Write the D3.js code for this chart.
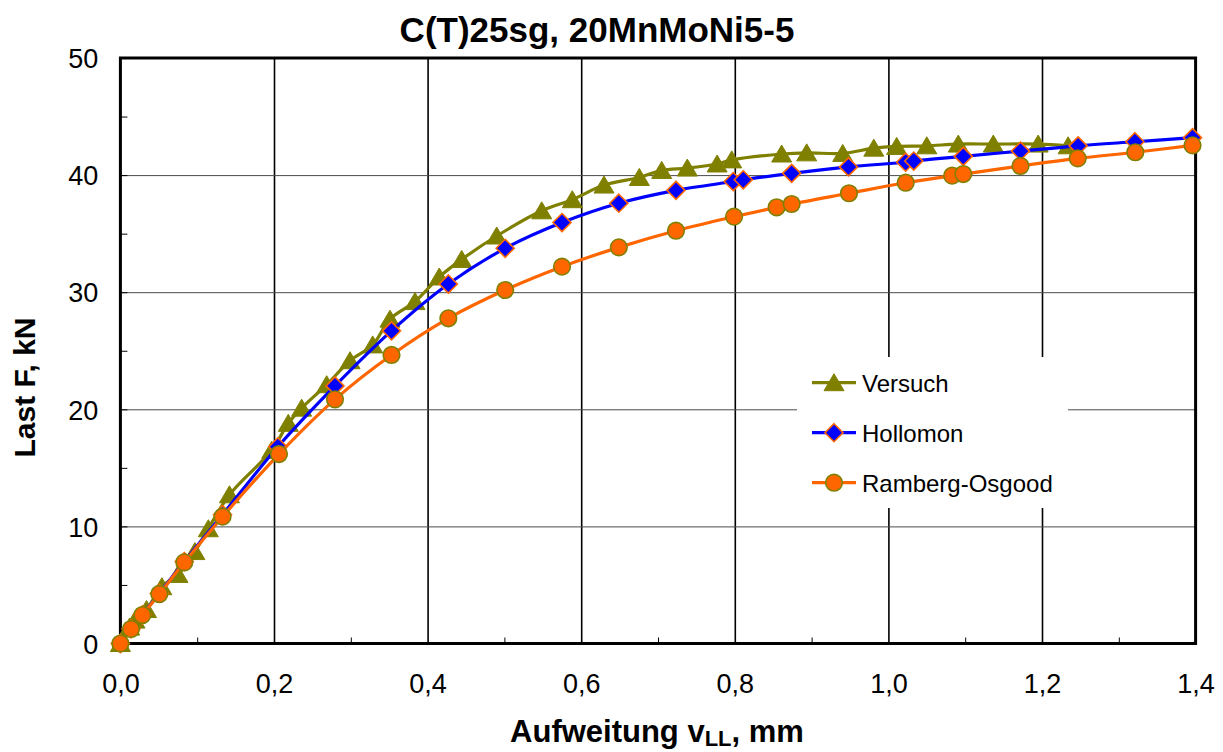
<!DOCTYPE html>
<html lang="de">
<head>
  <meta charset="UTF-8">
  <title>C(T)25sg, 20MnMoNi5-5</title>
  <style>
    *{margin:0;padding:0}
    body{background:#fff;font-family:'Liberation Sans',Arial,Helvetica,sans-serif}
    svg{display:block}
  </style>
  <script src="https://d3js.org/d3.v7.min.js"></script>
</head>
<body>
  <div id="chart"></div>
  <script>
    /* ---------- DATA ---------- */
    const versuchX = [0, 0.012, 0.019, 0.034, 0.054, 0.075, 0.097, 0.1145, 0.142, 0.197, 0.2186, 0.236, 0.2686, 0.299, 0.3285, 0.351, 0.3836,
                      0.4152, 0.4444, 0.49, 0.5486, 0.5884, 0.6297, 0.6757, 0.7048, 0.7382, 0.777, 0.796, 0.861, 0.8936, 0.9405,
                      0.981, 1.0108, 1.05, 1.091, 1.1366, 1.195, 1.234];
    const versuchY = [0, 1.4, 2.0, 2.9, 4.85, 5.9, 7.85, 9.8, 12.7, 16.5, 18.8, 20.1, 22.1, 24.15, 25.5, 27.7, 29.2,
                      31.3, 32.8, 34.8, 36.95, 37.9, 39.15, 39.8, 40.4, 40.6, 40.95, 41.3, 41.8, 41.9, 41.85,
                      42.3, 42.45, 42.5, 42.65, 42.65, 42.65, 42.5];

    const hollomonX = [0, 0.0138, 0.0286, 0.0507, 0.0832, 0.133, 0.205, 0.2794, 0.353, 0.427, 0.501, 0.575, 0.649, 0.7234,
                       0.798, 0.811, 0.874, 0.948, 1.0225, 1.033, 1.0975, 1.172, 1.247, 1.321, 1.396];
    const hollomonY = [0, 1.25, 2.45, 4.28, 7.0, 11.0, 16.8, 22.0, 26.7, 30.7, 33.75, 35.95, 37.6, 38.7,
                       39.45, 39.6, 40.15, 40.7, 41.1, 41.2, 41.6, 42.05, 42.5, 42.85, 43.2];

    const rambergX = [0, 0.0138, 0.0286, 0.0507, 0.0832, 0.133, 0.2065, 0.2794, 0.353, 0.427, 0.501, 0.575, 0.649, 0.7234,
                      0.799, 0.8545, 0.874, 0.9487, 1.0225, 1.083, 1.0975, 1.172, 1.2465, 1.3215, 1.396];
    const rambergY = [0, 1.24, 2.43, 4.23, 6.93, 10.83, 16.18, 20.85, 24.64, 27.77, 30.19, 32.18, 33.83, 35.25,
                      36.45, 37.25, 37.53, 38.45, 39.35, 39.95, 40.09, 40.78, 41.43, 41.95, 42.54];

    const xTicks = [0, 0.2, 0.4, 0.6, 0.8, 1.0, 1.2, 1.4];
    const yTicks = [0, 10, 20, 30, 40, 50];
    const xMinor = [0.1, 0.3, 0.5, 0.7, 0.9, 1.1, 1.3];
    const yMinor = [5, 15, 25, 35, 45];

    const seriesNames = ['Versuch', 'Hollomon', 'Ramberg-Osgood'];

    /* ---------- LAYOUT ---------- */
    const W = 1223, H = 752;
    const plot = {left: 120.4, right: 1195.6, top: 58, bottom: 643.5};
    const FONT = "'Liberation Sans',Arial,Helvetica,sans-serif";

    const x = d3.scaleLinear().domain([0, 1.4]).range([plot.left, plot.right]);
    const y = d3.scaleLinear().domain([0, 50]).range([plot.bottom, plot.top]);
    const fmt = d => d3.format('.1f')(d).replace('.', ',');

    const svg = d3.select('#chart').append('svg').attr('width', W).attr('height', H);

    /* ---------- GRID ---------- */
    svg.append('g').attr('transform', `translate(0,${plot.bottom})`)
       .call(d3.axisBottom(x).tickValues(xTicks.slice(1, -1)).tickSize(-(plot.bottom - plot.top)).tickFormat(''))
       .call(g => g.select('.domain').remove())
       .call(g => g.selectAll('line').attr('stroke', '#000').attr('stroke-width', 1.6));
    svg.append('g').attr('transform', `translate(${plot.left},0)`)
       .call(d3.axisLeft(y).tickValues(yTicks.slice(1, -1)).tickSize(-(plot.right - plot.left)).tickFormat(''))
       .call(g => g.select('.domain').remove())
       .call(g => g.selectAll('line').attr('stroke', '#4a4a4a').attr('stroke-width', 1));

    /* minor ticks (inside) */
    svg.append('g').attr('transform', `translate(0,${plot.bottom})`)
       .call(d3.axisTop(x).tickValues(xMinor).tickSize(6).tickFormat(''))
       .call(g => g.select('.domain').remove())
       .call(g => g.selectAll('line').attr('stroke', '#000').attr('stroke-width', 1));
    svg.append('g').attr('transform', `translate(${plot.left},0)`)
       .call(d3.axisRight(y).tickValues(yMinor.concat(yTicks)).tickSize(7).tickFormat(''))
       .call(g => g.select('.domain').remove())
       .call(g => g.selectAll('line').attr('stroke', '#000').attr('stroke-width', 1));

    /* tick labels */
    svg.append('g').attr('transform', `translate(0,${plot.bottom})`)
       .call(d3.axisBottom(x).tickValues(xTicks).tickSize(0).tickPadding(0).tickFormat(fmt))
       .call(g => g.select('.domain').remove())
       .call(g => g.selectAll('text').attr('y', 49.5).attr('dy', null)
                   .attr('font-family', FONT).attr('font-size', 27).attr('fill', '#000'));
    svg.append('g').attr('transform', `translate(${plot.left},0)`)
       .call(d3.axisLeft(y).tickValues(yTicks).tickSize(0).tickPadding(0).tickFormat(d3.format('d')))
       .call(g => g.select('.domain').remove())
       .call(g => g.selectAll('text').attr('x', -22).attr('dy', '0.36em')
                   .attr('font-family', FONT).attr('font-size', 27).attr('fill', '#000'));

    /* frame */
    svg.append('rect')
       .attr('x', plot.left).attr('y', plot.top)
       .attr('width', plot.right - plot.left).attr('height', plot.bottom - plot.top)
       .attr('fill', 'none').attr('stroke', '#000').attr('stroke-width', 3);

    /* ---------- SERIES ---------- */
    const line = d3.line().x(d => x(d[0])).y(d => y(d[1])).curve(d3.curveCatmullRom.alpha(0.5));
    const zip = (a, b) => a.map((v, i) => [v, b[i]]);

    const series = [
      {name: seriesNames[0], pts: zip(versuchX, versuchY), stroke: '#808000', fill: '#808000', mstroke: '#808000', shape: 'tri'},
      {name: seriesNames[1], pts: zip(hollomonX, hollomonY), stroke: '#0000ff', fill: '#0000ff', mstroke: '#ff6600', shape: 'dia'},
      {name: seriesNames[2], pts: zip(rambergX, rambergY), stroke: '#ff6600', fill: '#ff6600', mstroke: '#808000', shape: 'cir'}
    ];

    function marker(g, s, px, py){
      if(s.shape === 'tri'){
        g.append('path').attr('d', `M${px},${py - 9}L${px + 10},${py + 8}L${px - 10},${py + 8}Z`)
         .attr('fill', s.fill).attr('stroke', s.mstroke).attr('stroke-width', 1);
      }else if(s.shape === 'dia'){
        g.append('path').attr('d', `M${px},${py - 9}L${px + 9},${py}L${px},${py + 9}L${px - 9},${py}Z`)
         .attr('fill', s.fill).attr('stroke', s.mstroke).attr('stroke-width', 1.6);
      }else{
        g.append('circle').attr('cx', px).attr('cy', py).attr('r', 8.3)
         .attr('fill', s.fill).attr('stroke', s.mstroke).attr('stroke-width', 1.6);
      }
    }

    series.forEach(s => {
      const g = svg.append('g');
      g.append('path').datum(s.pts).attr('d', line)
       .attr('fill', 'none').attr('stroke', s.stroke).attr('stroke-width', 3.2);
      s.pts.forEach(p => marker(g, s, x(p[0]), y(p[1])));
    });

    /* ---------- LEGEND ---------- */
    const leg = svg.append('g');
    leg.append('rect').attr('x', 797).attr('y', 357).attr('width', 271).attr('height', 151).attr('fill', '#fff');
    series.forEach((s, i) => {
      const ly = 382.7 + i * 50;
      leg.append('line').attr('x1', 812).attr('x2', 856).attr('y1', ly).attr('y2', ly)
         .attr('stroke', s.stroke).attr('stroke-width', 3.2);
      marker(leg, s, 834, ly);
      leg.append('text').attr('x', 862).attr('y', ly + 9.5)
         .attr('font-family', FONT).attr('font-size', 24).attr('fill', '#000').text(s.name);
    });

    /* ---------- TITLES ---------- */
    svg.append('text').attr('x', 597).attr('y', 41.5).attr('text-anchor', 'middle')
       .attr('font-family', FONT).attr('font-weight', 'bold').attr('font-size', 35).text('C(T)25sg, 20MnMoNi5-5');

    const xt = svg.append('text').attr('x', 657).attr('y', 742).attr('text-anchor', 'middle')
       .attr('font-family', FONT).attr('font-weight', 'bold').attr('font-size', 31);
    xt.append('tspan').text('Aufweitung v');
    xt.append('tspan').attr('font-size', 22).attr('dy', 4).text('LL');
    xt.append('tspan').attr('dy', -4).text(', mm');

    svg.append('text').attr('transform', 'translate(35,387.5) rotate(-90)').attr('text-anchor', 'middle')
       .attr('font-family', FONT).attr('font-weight', 'bold').attr('font-size', 30).text('Last F, kN');
  </script>
</body>
</html>
